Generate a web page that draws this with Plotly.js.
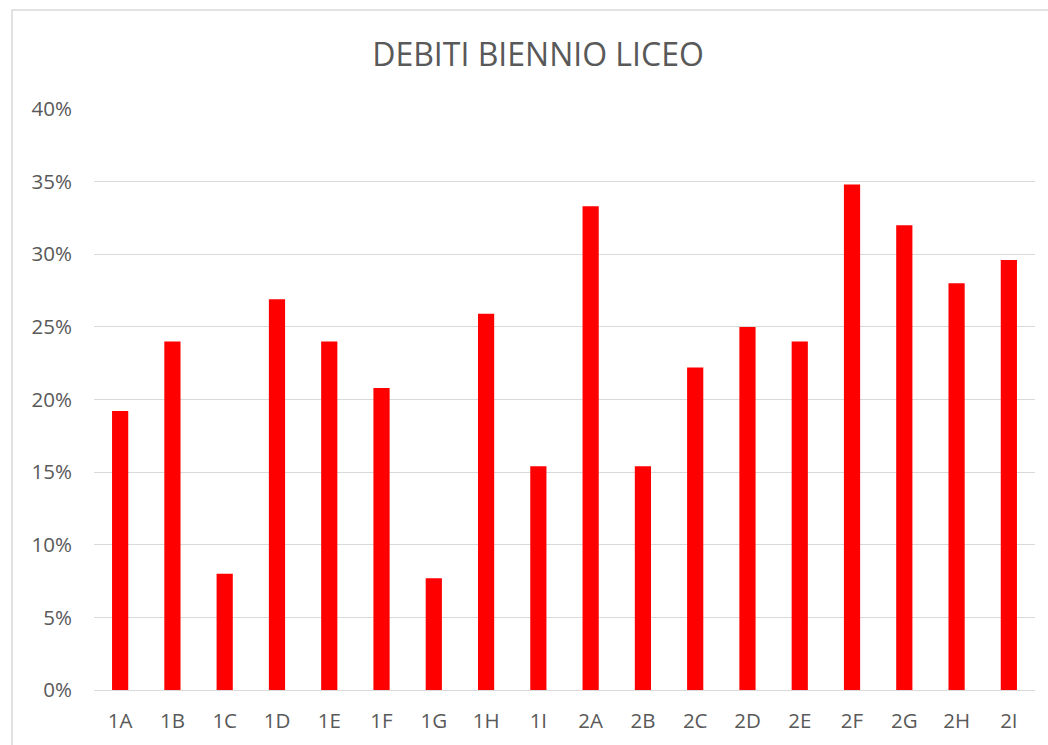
<!DOCTYPE html>
<html>
<head>
<meta charset="utf-8">
<script src="https://cdn.plot.ly/plotly-3.0.1.min.js"></script>
<style>html,body{margin:0;padding:0;background:#fff;}#chart{width:1048px;height:745px;}</style>
</head>
<body>
<div id="chart"></div>
<script>
const classes = ["1A","1B","1C","1D","1E","1F","1G","1H","1I","2A","2B","2C","2D","2E","2F","2G","2H","2I"];
const debiti = [0.192,0.240,0.080,0.269,0.240,0.208,0.077,0.259,0.154,0.333,0.154,0.222,0.250,0.240,0.348,0.320,0.280,0.296];
const yTicks = [0,0.05,0.10,0.15,0.20,0.25,0.30,0.35,0.40];
const yTickText = ["0%","5%","10%","15%","20%","25%","30%","35%","40%"];

const W = 1048, H = 745;
const m = {l:94, r:13, t:109, b:55};
const pw = W - m.l - m.r, ph = H - m.t - m.b;

const trace = {
  type: 'bar',
  x: classes,
  y: debiti,
  marker: {color: '#ff0000'},
  hoverinfo: 'x+y'
};

const layout = {
  width: W, height: H,
  margin: m,
  paper_bgcolor: '#fff',
  plot_bgcolor: '#fff',
  bargap: 0.69,
  font: {family: 'Open Sans, Noto Sans, sans-serif', color: '#595959', size: 20},
  title: {
    text: 'DEBITI BIENNIO LICEO',
    font: {size: 32, color: '#595959', family: 'Open Sans, Noto Sans, sans-serif'},
    x: 538 / W, xanchor: 'center', xref: 'container',
    y: 1 - 55 / H, yanchor: 'middle', yref: 'container'
  },
  xaxis: {
    type: 'category',
    showgrid: false,
    showline: true, linecolor: '#d9d9d9', linewidth: 1,
    ticks: '',
    ticklabelstandoff: 12,
    tickfont: {size: 20.5, color: '#595959'}
  },
  yaxis: {
    range: [0, 0.40],
    tickvals: yTicks,
    ticktext: yTickText,
    showgrid: true, gridcolor: '#d9d9d9', gridwidth: 1,
    zeroline: false,
    showline: false,
    ticks: '',
    ticklabelstandoff: 21,
    tickfont: {size: 20.5, color: '#595959'}
  },
  shapes: [{
    type: 'rect', xref: 'paper', yref: 'paper',
    x0: (12 - m.l) / pw, x1: (1060 - m.l) / pw,
    y0: -(760 - (m.t + ph)) / ph, y1: 1 + (m.t - 10) / ph,
    line: {color: '#d9d9d9', width: 1.5},
    fillcolor: 'rgba(0,0,0,0)', layer: 'below'
  }],
  showlegend: false
};

Plotly.newPlot('chart', [trace], layout, {displayModeBar: false, staticPlot: true});
</script>
</body>
</html>
